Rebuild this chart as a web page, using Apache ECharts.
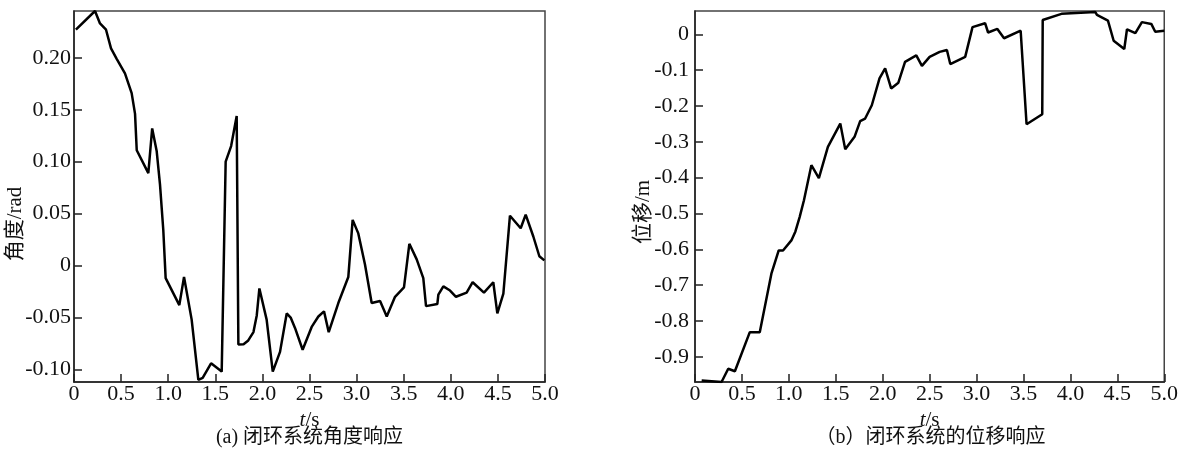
<!DOCTYPE html>
<html><head><meta charset="utf-8">
<script src="https://cdn.jsdelivr.net/npm/echarts@6/dist/echarts.min.js"></script>
<style>html,body{margin:0;padding:0;background:#fff}#c{width:1181px;height:453px}</style>
</head><body><div id="c"></div>
<script>
// (a) angle response
const tA = [0.02,0.223,0.276,0.34,0.393,0.453,0.541,0.612,0.648,0.666,0.789,0.83,0.878,0.913,0.948,0.973,1.118,1.168,1.249,1.32,1.366,1.455,1.568,1.61,1.668,1.727,1.745,1.8,1.85,1.905,1.94,1.968,2.045,2.11,2.187,2.258,2.30,2.346,2.427,2.523,2.594,2.654,2.704,2.806,2.912,2.958,3.018,3.089,3.16,3.249,3.32,3.408,3.503,3.56,3.638,3.708,3.737,3.857,3.868,3.921,3.992,4.055,4.168,4.232,4.352,4.451,4.494,4.558,4.628,4.742,4.795,4.876,4.94,4.993];
const angle = [0.227,0.245,0.233,0.227,0.209,0.199,0.185,0.166,0.146,0.111,0.089,0.132,0.110,0.078,0.034,-0.012,-0.038,-0.011,-0.052,-0.110,-0.108,-0.094,-0.102,0.100,0.115,0.144,-0.076,-0.0756,-0.072,-0.064,-0.048,-0.022,-0.052,-0.102,-0.083,-0.046,-0.050,-0.060,-0.081,-0.059,-0.049,-0.044,-0.064,-0.036,-0.011,0.044,0.031,0.001,-0.036,-0.034,-0.049,-0.030,-0.021,0.021,0.006,-0.012,-0.039,-0.037,-0.028,-0.020,-0.024,-0.030,-0.026,-0.016,-0.026,-0.016,-0.046,-0.027,0.048,0.036,0.049,0.028,0.009,0.005];
// (b) displacement response
const tB = [0.071,0.283,0.354,0.425,0.584,0.69,0.814,0.892,0.938,1.027,1.07,1.115,1.161,1.24,1.32,1.416,1.548,1.601,1.7,1.76,1.813,1.884,1.966,2.026,2.09,2.167,2.238,2.358,2.418,2.5,2.607,2.684,2.72,2.879,2.957,3.091,3.123,3.222,3.293,3.47,3.533,3.70,3.705,3.905,4.266,4.283,4.4,4.461,4.574,4.603,4.692,4.762,4.862,4.904,5.0];
const disp = [-0.966,-0.970,-0.933,-0.940,-0.831,-0.831,-0.668,-0.603,-0.603,-0.575,-0.55,-0.51,-0.463,-0.365,-0.401,-0.314,-0.249,-0.321,-0.286,-0.242,-0.235,-0.198,-0.123,-0.095,-0.151,-0.135,-0.077,-0.059,-0.088,-0.063,-0.049,-0.044,-0.083,-0.063,0.020,0.031,0.005,0.015,-0.011,0.010,-0.251,-0.223,0.040,0.057,0.062,0.054,0.038,-0.018,-0.041,0.014,0.003,0.034,0.029,0.007,0.010];
const xTicks = [0,0.5,1.0,1.5,2.0,2.5,3.0,3.5,4.0,4.5,5.0];
const yTicksA = [-0.10,-0.05,0,0.05,0.10,0.15,0.20];
const yTicksB = [-0.9,-0.8,-0.7,-0.6,-0.5,-0.4,-0.3,-0.2,-0.1,0];

const FONT = "'Liberation Serif','Noto Sans CJK SC',serif";
const axLine = {show:true, onZero:false, lineStyle:{color:'#222', width:1.5}};
const tick = {show:true, inside:true, length:8, lineStyle:{color:'#222', width:1.5}};

function xAxis(idx){
  return {type:'value', gridIndex:idx, min:0, max:5, interval:0.5,
    axisLine:axLine, axisTick:Object.assign({customValues:xTicks}, tick), splitLine:{show:false},
    axisLabel:{customValues:xTicks, fontFamily:FONT, fontSize:22, color:'#111', margin:1,
      formatter:v=> v===0?'0':v.toFixed(1)},
    name:'{i|t}/s', nameLocation:'middle', nameGap:18,
    nameTextStyle:{fontFamily:FONT, fontSize:21, color:'#111',
      rich:{i:{fontFamily:FONT, fontSize:21, fontStyle:'italic', color:'#111'}}}};
}
function yAxis(idx, min, max, ticks, dec, margin){
  return {type:'value', gridIndex:idx, min:min, max:max,
    axisLine:axLine, splitLine:{show:false},
    axisTick:Object.assign({customValues:ticks}, tick),
    axisLabel:{customValues:ticks, fontFamily:FONT, fontSize:22, color:'#111', margin:margin,
      formatter:v=> Math.abs(v)<1e-9?'0':v.toFixed(dec)}};
}
const chart = echarts.init(document.getElementById('c'));
chart.setOption({
  animation:false,
  backgroundColor:'#fff',
  grid:[
    {left:74, top:11, width:471, height:371, show:true, borderColor:'#444', borderWidth:1.5, backgroundColor:'transparent'},
    {left:695, top:11, width:471, height:371, show:true, borderColor:'#444', borderWidth:1.5, backgroundColor:'transparent'}
  ],
  xAxis:[xAxis(0), xAxis(1)],
  yAxis:[yAxis(0,-0.112,0.245,yTicksA,2,3), yAxis(1,-0.97,0.065,yTicksB,1,6)],
  series:[
    {type:'line', xAxisIndex:0, yAxisIndex:0, showSymbol:false, clip:true,
     lineStyle:{color:'#000', width:2.5}, data:tA.map((t,i)=>[t,angle[i]])},
    {type:'line', xAxisIndex:1, yAxisIndex:1, showSymbol:false, clip:true,
     lineStyle:{color:'#000', width:2.5}, data:tB.map((t,i)=>[t,disp[i]])}
  ],
  graphic:[
    {type:'text', x:15, y:224, rotation:Math.PI/2,
     style:{text:'角度/rad', fontFamily:FONT, fontSize:21, fill:'#111', align:'center', verticalAlign:'middle'}},
    {type:'text', x:643, y:212, rotation:Math.PI/2,
     style:{text:'位移/m', fontFamily:FONT, fontSize:21, fill:'#111', align:'center', verticalAlign:'middle'}},
    {type:'text', x:309.5, y:438,
     style:{text:'(a) 闭环系统角度响应', fontFamily:FONT, fontSize:20, fill:'#111', align:'center', verticalAlign:'middle'}},
    {type:'text', x:930.5, y:438,
     style:{text:'（b）闭环系统的位移响应', fontFamily:FONT, fontSize:20, fill:'#111', align:'center', verticalAlign:'middle'}}
  ]
});
</script></body></html>
